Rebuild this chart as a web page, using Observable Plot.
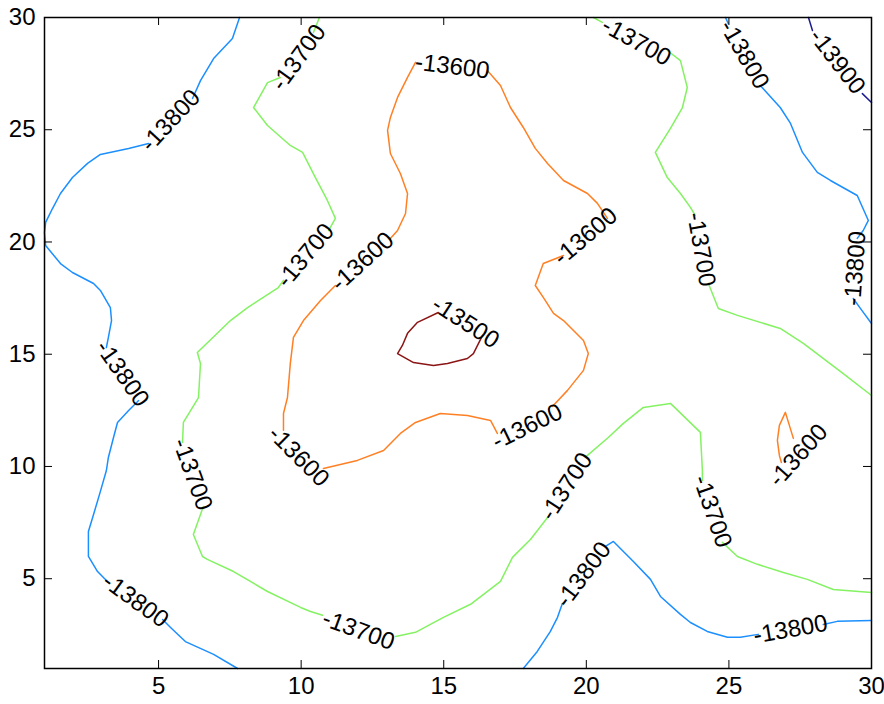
<!DOCTYPE html>
<html><head><meta charset="utf-8">
<script src="https://cdn.jsdelivr.net/npm/d3@7"></script>
<script src="https://cdn.jsdelivr.net/npm/@observablehq/plot@0.6"></script>
<style>body{margin:0;background:#fff}</style>
</head><body><div id="chart"></div>
<script>
// Contour levels and colours (jet-like)
const levels = [-13900, -13800, -13700, -13600, -13500];
const levelColors = ["#1c1c90", "#1c8fff", "#84f262", "#ff8024", "#8b1414"];
const xTicks = [5, 10, 15, 20, 25, 30];
const yTicks = [5, 10, 15, 20, 25, 30];

// ---- -13800 contour, left side (split at labels) ----
const c13800L1 = [[7.84,30],[7.59,29.06],[6.93,28.17],[6.47,27.19],[6.19,26.39]];
const c13800L2 = [[4.65,24.39],[3.95,24.16],[2.96,23.90],[2.51,23.50],[1.98,22.87],[1.56,22.16],[1.28,21.49],[1.04,20.87],[1,20.42],[1.04,19.84],[1.56,19.04],[1.98,18.64],[2.72,18.15],[2.96,17.84],[3.31,17.08],[3.35,16.50],[3.24,15.75],[3.17,15.30]];
const c13800L3 = [[4.30,12.94],[3.95,12.49],[3.56,11.96],[3.42,11.29],[3.24,10.40],[3.17,9.82],[2.96,8.89],[2.72,7.86],[2.54,7.10],[2.54,5.99],[2.86,5.32],[3.24,4.83]];
const c13800L4 = [[5.14,3.18],[5.42,2.83],[5.94,2.20],[6.93,1.63],[7.77,1.0]];

// ---- -13700 contour, long one ----
const c13700A1 = [[10.64,30],[10.43,29.33]];
const c13700A2 = [[9.27,27.33],[8.82,27.10],[8.33,25.99],[8.82,25.19],[9.62,24.30],[10.05,23.99],[10.50,22.87],[10.92,21.85],[11.20,21.05],[10.96,20.51]];
const c13700A3 = [[9.38,18.29],[9.20,17.97],[8.12,17.08],[7.52,16.50],[6.36,15.08],[6.47,14.59],[6.40,13.07],[5.87,11.96],[5.84,11.07]];
const c13700A4 = [[6.57,8.22],[6.22,6.97],[6.54,5.99],[6.71,5.86],[7.63,5.32],[8.82,4.43],[9.98,3.72],[10.33,3.54],[10.75,3.37]];
const c13700A5 = [[13.31,2.43],[14.01,2.61],[14.99,3.28],[15.94,3.86],[16.99,4.88],[17.41,5.95],[18.04,6.75],[18.64,7.73]];
const c13700A6 = [[20.00,10.45],[20.77,11.29],[21.30,11.92],[22.00,12.63],[22.95,12.81],[24.00,11.52],[24.07,9.82],[24.07,9.38]];
const c13700A7 = [[24.77,6.62],[25.30,5.99],[26.00,5.64],[26.91,5.28],[27.75,4.97],[28.66,4.52],[30,4.39]];

// ---- -13700 contour, top right ----
const c13700B1 = [[20.25,30],[20.56,29.78]];
const c13700B2 = [[22.84,28.53],[23.30,28.08],[23.54,26.88],[23.37,25.99],[22.95,25.06],[22.42,23.99],[22.84,22.87],[23.30,22.16],[23.65,21.54],[23.82,21.18]];
const c13700B3 = [[24.28,18.15],[24.63,17.04],[25.30,16.73],[26.80,16.15],[27.61,15.48],[29.01,14.14],[30,13.16]];

// ---- -13800 contour, top right ----
const c13800R1 = [[24.88,30],[24.98,29.73]];
const c13800R2 = [[26.10,26.97],[26.80,25.99],[27.16,25.28],[27.58,23.99],[28.10,23.10],[28.56,22.74],[29.50,22.07],[29.89,20.96],[29.71,20.51],[29.50,20.16]];
const c13800R3 = [[29.36,17.48],[29.61,17.04],[30,16.37]];

// ---- -13900 contour ----
const c13900A = [[27.79,30],[27.93,29.42]];
const c13900B = [[29.68,26.61],[30,26.21]];

// ---- -13800 contour, bottom ----
const c13800B1 = [[17.79,1],[18.28,1.76],[18.74,2.65],[18.99,3.28],[19.16,3.90]];
const c13800B2 = [[20.67,6.44],[20.95,6.66],[21.65,5.77],[22.25,4.97],[22.60,4.21],[23.30,3.41],[23.65,3.05],[24.24,2.65],[24.95,2.39],[25.40,2.39],[26.03,2.52]];
const c13800B3 = [[28.31,2.96],[28.80,3.10],[30,3.14]];

// ---- -13600 closed loop ----
const c13600F1 = [[16.53,27.64],[16.99,26.97],[17.34,25.99],[17.79,25.10],[18.21,24.17],[18.64,23.50],[19.20,22.74],[20.04,22.16],[20.39,21.72],[20.74,21.05]];
const c13600F2 = [[19.20,19.40],[18.49,19.04],[18.21,18.06],[18.49,17.53],[18.85,16.82],[19.20,16.50],[19.90,15.61],[20.07,15.03],[19.90,14.28],[19.34,13.39],[18.81,12.67]];
const c13600F3 = [[16.88,11.47],[16.64,12.05],[15.83,12.27],[14.88,12.36],[14.01,11.96],[13.48,11.47],[12.89,10.71],[11.97,10.27],[10.78,9.91]];
const c13600F4 = [[9.38,11.61],[9.38,12.36],[9.52,13.07],[9.62,14.59],[9.73,15.75],[10.08,16.50],[10.68,17.39],[11.20,18.06]];
const c13600F5 = [[13.13,20.16],[13.38,20.51],[13.66,21.27],[13.73,22.16],[13.48,23.05],[13.13,23.94],[13.03,24.97],[13.13,25.55],[13.38,26.44],[13.73,27.33],[14.01,28.00]];

// ---- -13600 small loop (right) ----
const c13600G = [[27.26,11.25],[26.98,12.41],[26.77,11.83],[26.70,11.16],[26.77,10.49],[26.84,10.18]];

// ---- -13500 loop ----
const c13500H = [[14.81,16.86],[14.08,16.42],[13.73,15.93],[13.55,15.39],[13.38,15.03],[13.94,14.63],[14.64,14.50],[15.13,14.59],[15.83,14.81],[16.04,15.03],[16.36,15.84]];

const segments = [
  [-13800, c13800L1], [-13800, c13800L2], [-13800, c13800L3], [-13800, c13800L4],
  [-13700, c13700A1], [-13700, c13700A2], [-13700, c13700A3], [-13700, c13700A4],
  [-13700, c13700A5], [-13700, c13700A6], [-13700, c13700A7],
  [-13700, c13700B1], [-13700, c13700B2], [-13700, c13700B3],
  [-13800, c13800R1], [-13800, c13800R2], [-13800, c13800R3],
  [-13900, c13900A], [-13900, c13900B],
  [-13800, c13800B1], [-13800, c13800B2], [-13800, c13800B3],
  [-13600, c13600F1], [-13600, c13600F2], [-13600, c13600F3], [-13600, c13600F4], [-13600, c13600F5],
  [-13600, c13600G],
  [-13500, c13500H]
];

// ---- contour labels ----
const labelLevels = [-13800,-13700,-13600,-13700,-13800,-13900,-13700,-13600,-13500,-13600,-13700,-13800,-13800,-13700,-13600,-13600,-13600,-13800,-13700,-13700,-13800,-13700,-13800];
const labelX      = [5.42, 9.91, 15.30, 21.76, 25.54, 28.80, 10.15, 12.15, 15.76, 19.97, 24.03, 29.43, 3.73, 6.19, 9.91, 17.93, 27.43, 4.19, 12.01, 19.30, 19.90, 24.42, 27.16];
const labelY      = [25.41, 28.22, 27.82, 28.93, 28.35, 28.04, 19.40, 19.13, 16.42, 20.25, 19.67, 18.82, 14.14, 9.65, 10.45, 11.78, 10.49, 4.03, 2.70, 9.11, 5.19, 8.00, 2.74];
const labelAngles = [-47, -54, 7, 29, 60, 52, -50, -42, 33, -40, 80, -86, 55, 70, 45, -26, -48, 36, 20, -57, -53, 71, -10];

const lineRows = segments.flatMap(([level, pts], i) => pts.map(([x, y]) => ({x, y, level, seg: i})));
const labelRows = labelLevels.map((level, i) => ({level, x: labelX[i], y: labelY[i], angle: labelAngles[i]}));

const W = 884, H = 704, mL = 44, mT = 17, mR = 13, mB = 36;
const innerW = W - mL - mR, innerH = H - mT - mB, tick = 8;

const chart = Plot.plot({
  width: W, height: H,
  marginLeft: mL, marginTop: mT, marginRight: mR, marginBottom: mB,
  style: {fontFamily: "'Liberation Sans', Arial, sans-serif", fontSize: "24px", background: "#fff", color: "#000"},
  x: {domain: [1, 30], label: null},
  y: {domain: [1, 30], label: null},
  color: {type: "ordinal", domain: levels, range: levelColors},
  marks: [
    Plot.line(lineRows, {x: "x", y: "y", z: "seg", stroke: "level", strokeWidth: 1.5}),
    Plot.text(labelRows, {x: "x", y: "y", text: d => String(d.level), rotate: "angle", fontSize: 24, fill: "#000"}),
    Plot.tickX(xTicks, {x: d => d, insetTop: innerH - tick, stroke: "#000"}),
    Plot.tickX(xTicks, {x: d => d, insetBottom: innerH - tick, stroke: "#000"}),
    Plot.tickY(yTicks, {y: d => d, insetRight: innerW - tick, stroke: "#000"}),
    Plot.tickY(yTicks, {y: d => d, insetLeft: innerW - tick, stroke: "#000"}),
    Plot.axisX({ticks: xTicks, tickSize: 0, tickPadding: 8, fontSize: 24, label: null}),
    Plot.axisY({ticks: yTicks, tickSize: 0, tickPadding: 9, fontSize: 24, label: null}),
    Plot.frame({stroke: "#000", strokeWidth: 1.5})
  ]
});
document.getElementById("chart").appendChild(chart);
</script>
</body></html>
